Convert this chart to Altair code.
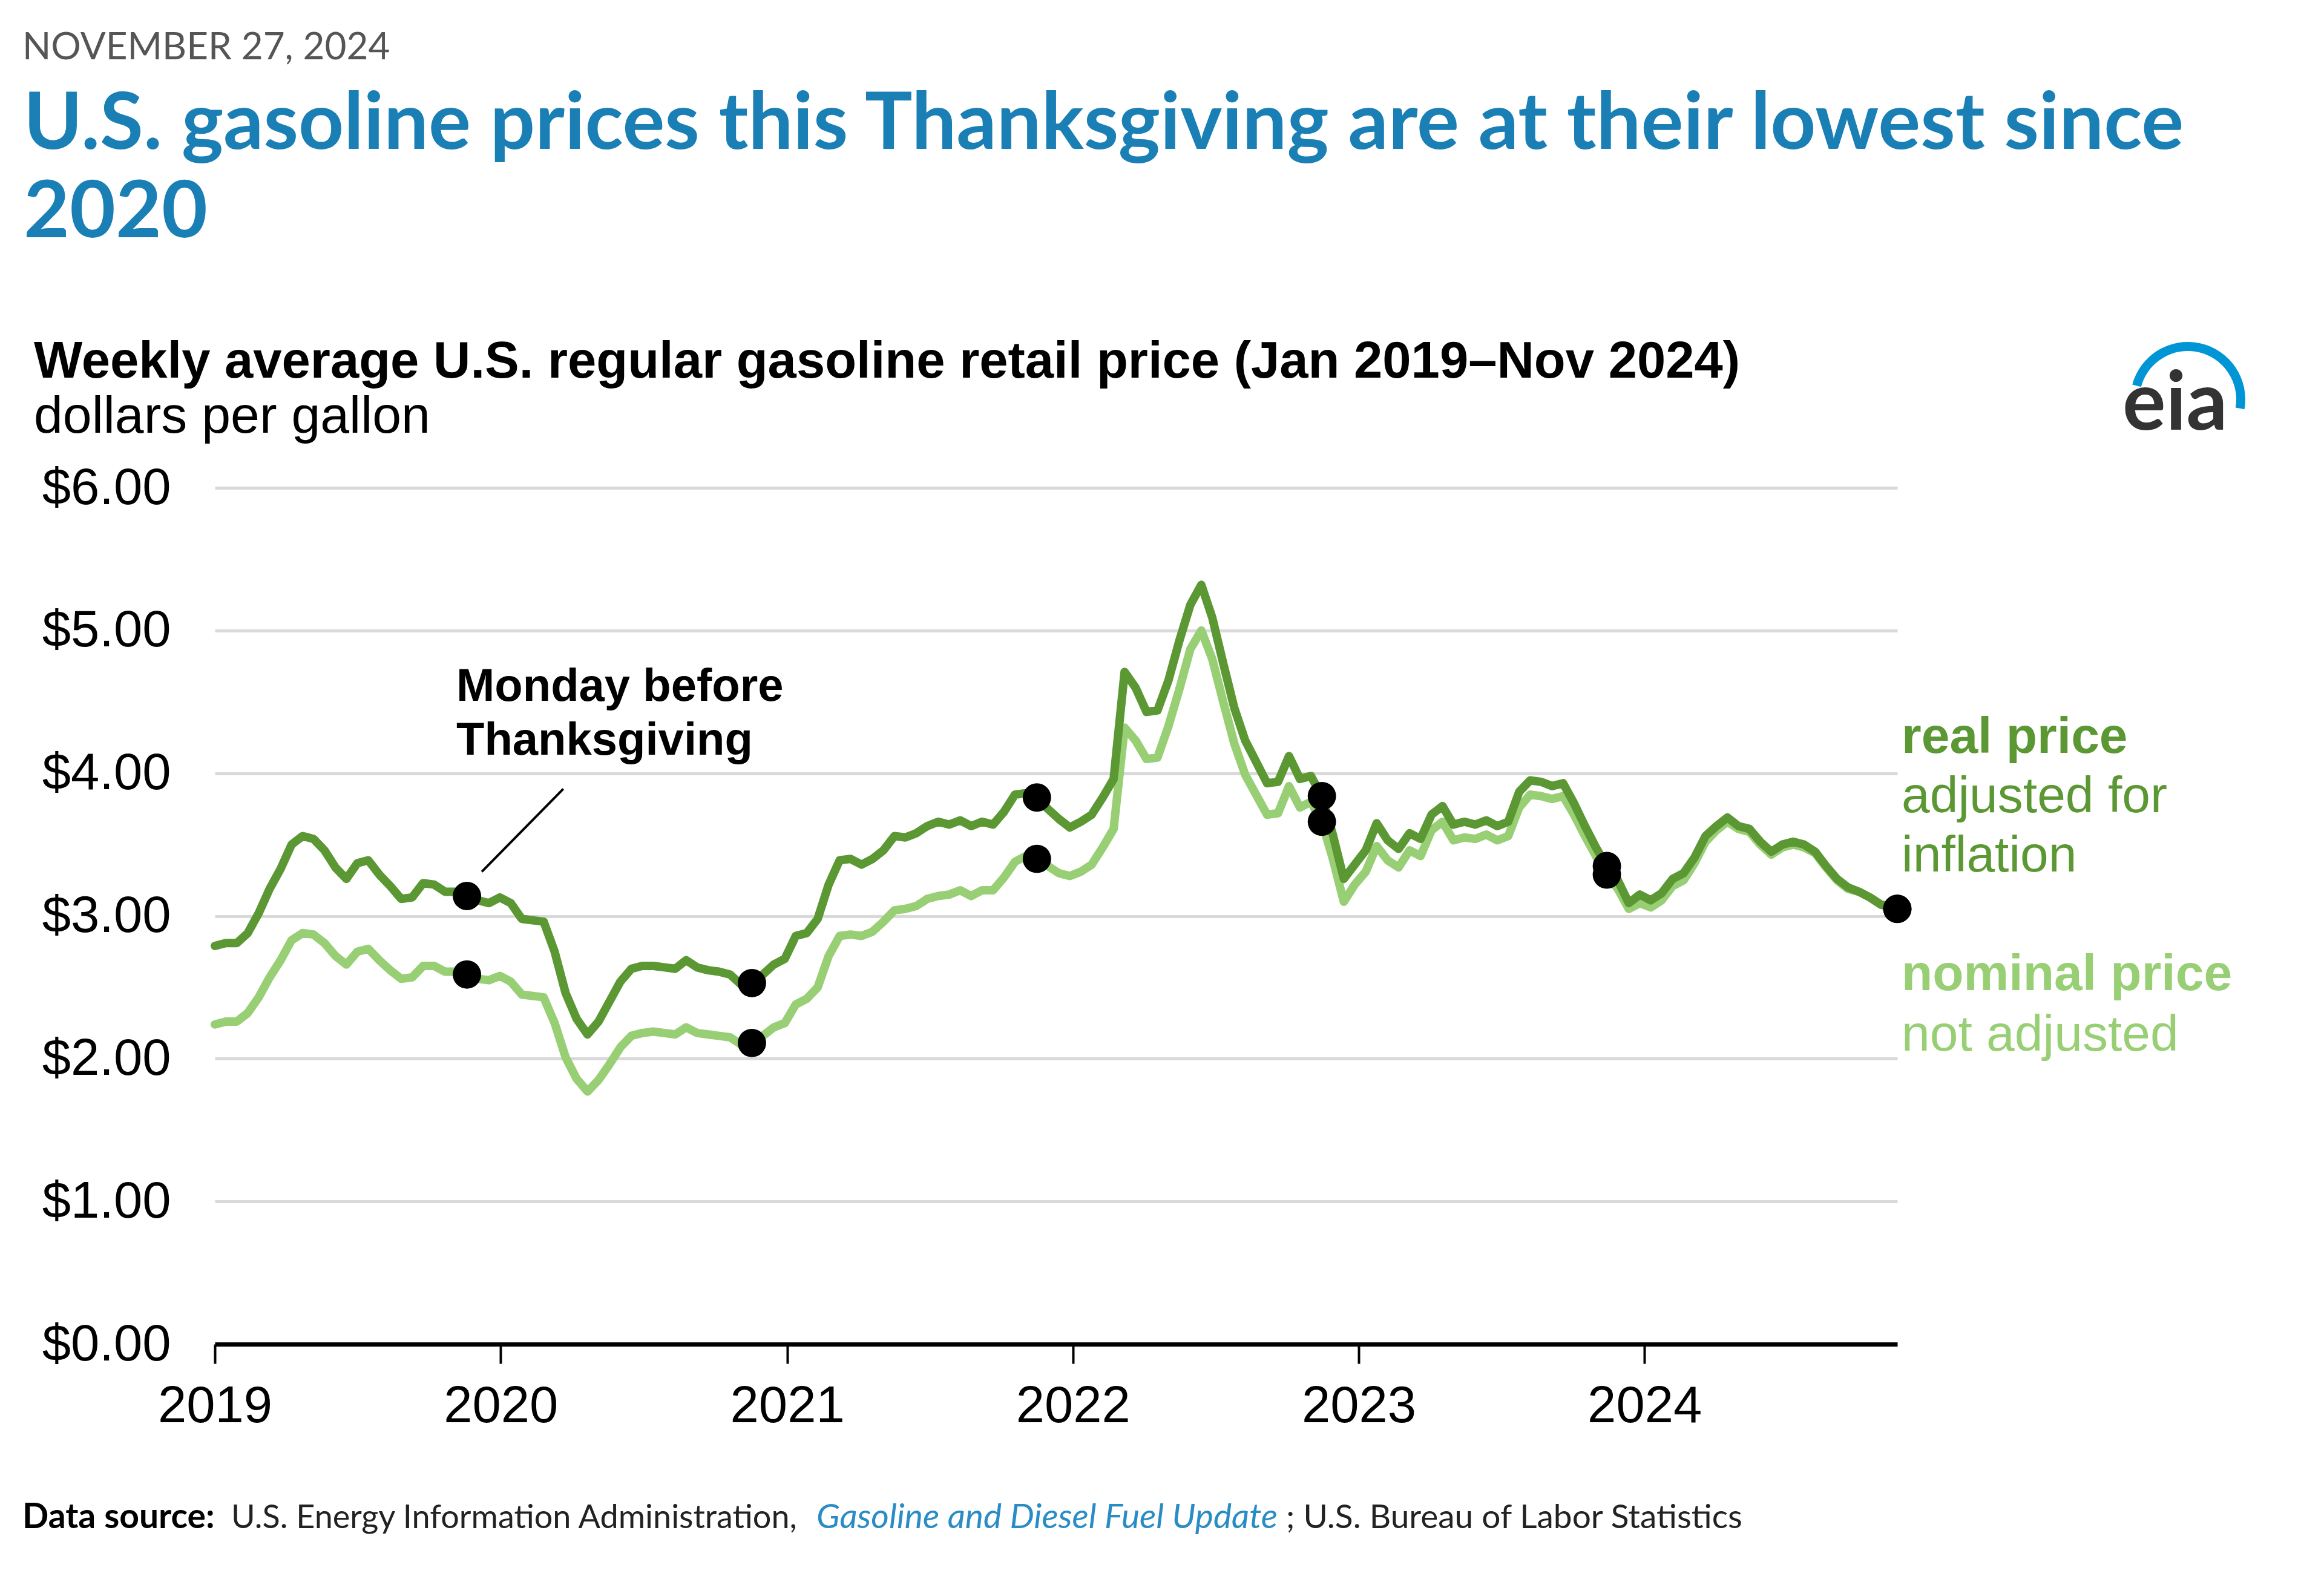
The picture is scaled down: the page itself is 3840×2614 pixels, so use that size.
import altair as alt
import pandas as pd

# ---- data: biweekly Mondays (2019-01-07 ... 2024-11-18) plus 2024-11-25 ----
nominal_2019 = [2.24, 2.26, 2.26, 2.32, 2.43, 2.57, 2.69, 2.83, 2.88, 2.87, 2.81, 2.72, 2.66,
                2.75, 2.77, 2.69, 2.62, 2.56, 2.57, 2.65, 2.65, 2.61, 2.61, 2.59, 2.56, 2.55]
real_2019 = [2.79, 2.81, 2.81, 2.88, 3.02, 3.19, 3.33, 3.50, 3.56, 3.54, 3.46, 3.34, 3.26,
             3.37, 3.39, 3.29, 3.21, 3.12, 3.13, 3.23, 3.22, 3.17, 3.17, 3.14, 3.11, 3.09]
nominal_2020 = [2.58, 2.54, 2.45, 2.44, 2.43, 2.25, 2.01, 1.86, 1.77, 1.85, 1.96, 2.08, 2.16,
                2.18, 2.19, 2.18, 2.17, 2.22, 2.18, 2.17, 2.16, 2.15, 2.10, 2.11, 2.16, 2.22]
real_2020 = [3.13, 3.09, 2.98, 2.97, 2.96, 2.75, 2.46, 2.28, 2.17, 2.26, 2.40, 2.54, 2.63,
             2.65, 2.65, 2.64, 2.63, 2.69, 2.64, 2.62, 2.61, 2.59, 2.52, 2.53, 2.59, 2.66]
nominal_2021 = [2.25, 2.38, 2.42, 2.50, 2.72, 2.86, 2.87, 2.86, 2.89, 2.96, 3.04, 3.05, 3.07,
                3.12, 3.14, 3.15, 3.18, 3.14, 3.18, 3.18, 3.27, 3.38, 3.42, 3.40, 3.35, 3.30]
real_2021 = [2.70, 2.86, 2.88, 2.98, 3.22, 3.39, 3.40, 3.36, 3.40, 3.46, 3.56, 3.55, 3.58,
             3.63, 3.66, 3.64, 3.67, 3.63, 3.66, 3.64, 3.73, 3.85, 3.86, 3.83, 3.75, 3.68]
nominal_2022 = [3.28, 3.31, 3.36, 3.48, 3.61, 4.32, 4.23, 4.10, 4.11, 4.33, 4.59, 4.87, 5.00,
                4.80, 4.50, 4.21, 3.99, 3.85, 3.71, 3.72, 3.91, 3.76, 3.80, 3.66, 3.40, 3.10]
real_2022 = [3.62, 3.66, 3.71, 3.83, 3.96, 4.71, 4.60, 4.43, 4.44, 4.65, 4.93, 5.18, 5.32,
             5.09, 4.77, 4.46, 4.23, 4.08, 3.93, 3.94, 4.12, 3.96, 3.98, 3.84, 3.57, 3.26]
nominal_2023 = [3.22, 3.31, 3.49, 3.39, 3.34, 3.46, 3.42, 3.60, 3.66, 3.53, 3.55, 3.54, 3.57,
                3.53, 3.56, 3.76, 3.85, 3.84, 3.82, 3.84, 3.71, 3.56, 3.42, 3.29, 3.19, 3.05]
real_2023 = [3.36, 3.46, 3.65, 3.53, 3.47, 3.58, 3.54, 3.71, 3.77, 3.64, 3.66, 3.64, 3.67,
             3.63, 3.66, 3.87, 3.95, 3.94, 3.91, 3.93, 3.79, 3.63, 3.48, 3.35, 3.25, 3.09]
nominal_2024 = [3.09, 3.06, 3.11, 3.21, 3.25, 3.37, 3.52, 3.60, 3.66, 3.61, 3.59, 3.50, 3.43,
                3.48, 3.50, 3.48, 3.44, 3.34, 3.25, 3.19, 3.17, 3.13, 3.08, 3.06, 3.05]
real_2024 = [3.15, 3.11, 3.16, 3.26, 3.30, 3.41, 3.56, 3.63, 3.69, 3.63, 3.61, 3.52, 3.45,
             3.50, 3.52, 3.50, 3.45, 3.35, 3.26, 3.20, 3.17, 3.13, 3.08, 3.06, 3.05]

# Monday before Thanksgiving
tg_dates = ["2019-11-25", "2020-11-23", "2021-11-22", "2022-11-21", "2023-11-20", "2024-11-25"]
tg_real = [3.14, 2.53, 3.83, 3.84, 3.35, 3.05]
tg_nominal = [2.59, 2.11, 3.40, 3.66, 3.29, 3.05]

# leader line of the annotation (date, price)
leader_from = ["2020-03-27", 3.89]
leader_to = ["2019-12-14", 3.31]

years = [2019, 2020, 2021, 2022, 2023, 2024]
y_ticks = [0, 1, 2, 3, 4, 5, 6]

# ---- tables ----
dates = list(pd.date_range("2019-01-07", "2024-11-18", freq="14D")) + [pd.Timestamp("2024-11-25")]
nominal = nominal_2019 + nominal_2020 + nominal_2021 + nominal_2022 + nominal_2023 + nominal_2024
real = real_2019 + real_2020 + real_2021 + real_2022 + real_2023 + real_2024
assert len(dates) == len(nominal) == len(real)
df = pd.DataFrame({"date": dates, "nominal": nominal, "real": real})

tg = pd.DataFrame({"date": pd.to_datetime(tg_dates), "real": tg_real, "nominal": tg_nominal})
leader = pd.DataFrame({"d1": [pd.Timestamp(leader_from[0])], "p1": [leader_from[1]],
                       "d2": [pd.Timestamp(leader_to[0])], "p2": [leader_to[1]]})

REAL = "#5b9833"
NOM = "#98cf74"
BLUE = "#1a7fb5"
ARIAL = "Liberation Sans"

W, H = 2780, 1415
PAD = {"left": 355, "top": 806, "right": 705, "bottom": 393}

xscale = alt.Scale(domain=[alt.DateTime(year=2019, month=1, date=7),
                           alt.DateTime(year=2024, month=11, date=25)])
yscale = alt.Scale(domain=[0, 6])

xaxis = alt.Axis(values=[alt.DateTime(year=y, month=1, date=7) for y in years], format="%Y",
                 title=None, grid=False, domainColor="black", domainWidth=7,
                 tickColor="black", tickWidth=4, tickSize=32, labelFontSize=85,
                 labelPadding=29, labelFont=ARIAL, labelColor="black", labelLimit=1000,
                 labelOverlap=False, labelFlush=False)
yaxis = alt.Axis(values=y_ticks, format="$.2f", title=None, domain=False, ticks=False,
                 labelFontSize=85, labelPadding=73, labelFont=ARIAL, labelColor="black",
                 labelLimit=1000, grid=True, gridColor="#d9d9d9", gridWidth=5)


def X(field):
    return alt.X(field, type="temporal", scale=xscale, axis=xaxis)


def Y(field):
    return alt.Y(field, type="quantitative", scale=yscale, axis=yaxis)


base = alt.Chart(df)
nom_line = base.mark_line(color=NOM, strokeWidth=14, strokeJoin="round", strokeCap="round").encode(
    x=X("date"), y=Y("nominal"))
real_line = base.mark_line(color=REAL, strokeWidth=14, strokeJoin="round", strokeCap="round").encode(
    x=X("date"), y=Y("real"))
dots_nom = alt.Chart(tg).mark_point(filled=True, color="black", size=2200, opacity=1).encode(
    x=X("date"), y=Y("nominal"))
dots_real = alt.Chart(tg).mark_point(filled=True, color="black", size=2200, opacity=1).encode(
    x=X("date"), y=Y("real"))
lead = alt.Chart(leader).mark_rule(color="black", strokeWidth=4).encode(
    x=X("d1"), x2="d2:T", y=Y("p1"), y2="p2:Q")


def txt(text, x, y, size, color="black", weight="normal", font=ARIAL, style="normal",
        align="left", line_height=None):
    props = dict(align=align, baseline="alphabetic", fontSize=size, font=font,
                 fontWeight=weight, fontStyle=style, color=color)
    if line_height is not None:
        props.update(lineBreak="\n", lineHeight=line_height)
    return alt.Chart(pd.DataFrame({"t": [text]})).mark_text(**props).encode(
        x=alt.value(x), y=alt.value(y), text="t:N")


texts = [
    txt("NOVEMBER 27, 2024", -318, -708, 62, color="#555555", font="Lato"),
    txt("U.S. gasoline prices this Thanksgiving are at their lowest since", -316, -560, 131,
        color=BLUE, weight="bold", font="Lato"),
    txt("2020", -316, -414, 131, color=BLUE, weight="bold", font="Lato"),
    txt("Weekly average U.S. regular gasoline retail price (Jan 2019\u2013Nov 2024)", -299, -182, 85,
        weight="bold"),
    txt("dollars per gallon", -299, -91, 86),
    txt("Monday before\nThanksgiving", 399, 352, 76, weight="bold", line_height=89),
    txt("real price", 2787, 438, 84, color=REAL, weight="bold"),
    txt("adjusted for\ninflation", 2787, 536, 84, color=REAL, line_height=98),
    txt("nominal price", 2787, 830, 84, color=NOM, weight="bold"),
    txt("not adjusted", 2787, 930, 84, color=NOM),
    txt("Data source:", -318, 1719, 57, weight="bold", font="Lato"),
    txt("U.S. Energy Information Administration,", 27, 1719, 54, color="#222222", font="Lato"),
    txt("Gasoline and Diesel Fuel Update", 994, 1719, 57, color="#2a8cc4", font="Lato",
        style="italic"),
    txt("; U.S. Bureau of Labor Statistics", 1770, 1719, 55, color="#222222", font="Lato"),
    txt("eia", 3152, -96, 134, color="#333333", weight="bold", font="Lato"),
]

swoosh = alt.Chart(pd.DataFrame({"a": [0]})).mark_arc(
    theta=4.974, theta2=8.025, radius=95, radius2=80, color="#0096d6"
).encode(x=alt.value(3260), y=alt.value(-146))

chart = alt.layer(nom_line, real_line, lead, dots_nom, dots_real, swoosh, *texts).properties(
    width=W, height=H, padding=PAD, autosize=alt.AutoSizeParams(type="none"), background="white"
).configure_view(strokeWidth=0)

chart.save("out.html", embed_options={"renderer": "svg", "actions": False})
